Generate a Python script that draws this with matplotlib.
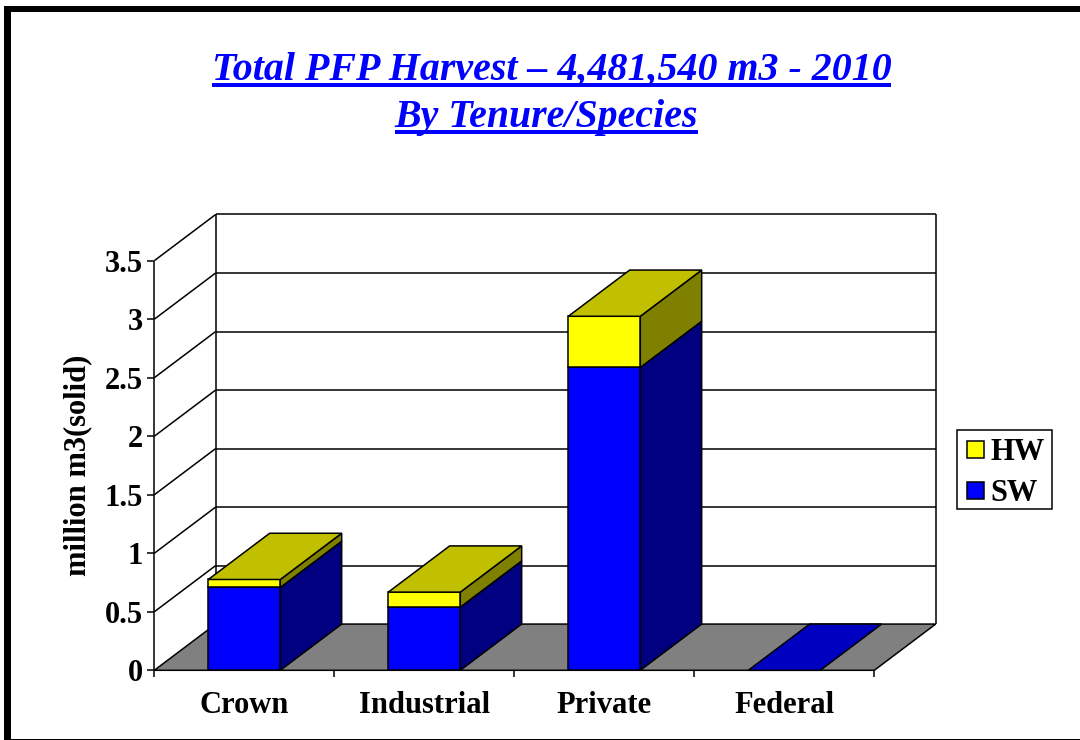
# _*_ coding: utf-8 _*_
import matplotlib
matplotlib.use("Agg")
import matplotlib.pyplot as plt
from matplotlib.patches import Patch, Polygon, Rectangle

plt.rcParams['font.family'] = ['Liberation Serif', 'DejaVu Serif']

categories = ['Crown', 'Industrial', 'Private', 'Federal']
sw_values = [0.708, 0.54, 2.588, 0.0]
hw_values = [0.068, 0.128, 0.437, 0.0]
y_ticks = [0, 0.5, 1, 1.5, 2, 2.5, 3, 3.5]
y_tick_labels = ['0', '0.5', '1', '1.5', '2', '2.5', '3', '3.5']
title_lines = ['Total PFP Harvest \u2013 4,481,540 m3 - 2010', 'By Tenure/Species']

W, H = 1080, 740
BAR_WIDTH = 0.4
# 3d 进深（数据单位）
DX = 0.341
DY = 0.395
EDGE = 1.1

SW_COLORS = ('#0000FF', '#0000C0', '#000080')  # front, top, side
HW_COLORS = ('#FFFF00', '#C0C000', '#808000')

fig = plt.figure(figsize=(W / 100, H / 100), dpi=100)
ax = fig.add_axes([154.3 / W, (H - 670.3) / H, 720 / W, 409.6 / H])
ax.set_xlim(-0.5, 3.5)
ax.set_ylim(0, 3.5)
ax.patch.set_visible(False)
for s in ax.spines.values():
    s.set_visible(False)


def quad(pts, color, z):
    ax.add_patch(Polygon(pts, closed=True, facecolor=color, edgecolor='black',
                         linewidth=EDGE, clip_on=False, zorder=z, joinstyle='miter'))


def line(xs, ys, z=1, lw=EDGE):
    ax.plot(xs, ys, color='black', linewidth=lw, clip_on=False, zorder=z,
            solid_capstyle='butt')


x0, x1 = ax.get_xlim()
# floor
quad([(x0, 0), (x1, 0), (x1 + DX, DY), (x0 + DX, DY)], '#808080', 1)
# walls and grid
for t in y_ticks:
    if t > 0:
        line([x0, x0 + DX], [t, t + DY])
        line([x0 + DX, x1 + DX], [t + DY, t + DY])
line([x0, x0], [0, y_ticks[-1]])
line([x0 + DX, x0 + DX], [DY, y_ticks[-1] + DY])
line([x1 + DX, x1 + DX], [DY, y_ticks[-1] + DY])

# bars
for i, cat in enumerate(categories):
    l = i - BAR_WIDTH / 2
    r = i + BAR_WIDTH / 2
    bottom = 0
    top_color = SW_COLORS[1]
    for val, cols in ((sw_values[i], SW_COLORS), (hw_values[i], HW_COLORS)):
        if val <= 0:
            continue
        top = bottom + val
        quad([(r, bottom), (r + DX, bottom + DY), (r + DX, top + DY), (r, top)], cols[2], 3)
        quad([(l, bottom), (r, bottom), (r, top), (l, top)], cols[0], 4)
        bottom = top
        top_color = cols[1]
    quad([(l, bottom), (r, bottom), (r + DX, bottom + DY), (l + DX, bottom + DY)], top_color, 4)

ax.set_xticks([x0 + k for k in range(len(categories) + 1)])
ax.set_xticklabels([])
ax.set_xticks(range(len(categories)), minor=True)
ax.set_xticklabels(categories, minor=True, fontsize=22, fontweight='bold')
ax.tick_params(axis='x', which='major', length=5, width=EDGE, color='black')
ax.tick_params(axis='x', which='minor', length=0, pad=15)
ax.set_yticks(y_ticks)
ax.set_yticklabels(y_tick_labels, fontsize=22, fontweight='bold')
ax.tick_params(axis='y', length=5, width=EDGE, pad=3, color='black')
fig.text(78 / W, 1 - 465 / H, 'million m3(solid)', rotation=90, ha='center', va='center',
         fontsize=22, fontweight='bold')

# title, underline drawn by hand because text has no underline
fig.canvas.draw()
renderer = fig.canvas.get_renderer()
for txt, base, cx in zip(title_lines, [80, 127], [551.5, 546.5]):
    t = fig.text(cx / W, 1 - base / H, txt, ha='center', va='baseline',
                 color='#0000FF', fontsize=28.7, fontweight='bold', fontstyle='italic')
    bb = t.get_window_extent(renderer)
    fig.add_artist(Rectangle((bb.x0 / W, 1 - (base + 7) / H), bb.width / W, 4 / H,
                             transform=fig.transFigure, facecolor='#0000FF', edgecolor='none'))

# legend box drawn apart so the rows can sit where they sit in the slide
fig.add_artist(Rectangle((957.3 / W, 1 - 509 / H), 95 / W, 79.3 / H, transform=fig.transFigure,
                         facecolor='white', edgecolor='black', linewidth=EDGE))
handles = [Patch(facecolor=HW_COLORS[0], edgecolor='black', linewidth=EDGE),
           Patch(facecolor=SW_COLORS[0], edgecolor='black', linewidth=EDGE)]
leg = fig.legend(handles, ['HW', 'SW'], loc='lower left',
                 bbox_to_anchor=(957.3 / W, 1 - 518.5 / H), borderaxespad=0,
                 prop={'family': 'Liberation Serif', 'weight': 'bold', 'size': 22},
                 frameon=False,
                 handlelength=0.55, handleheight=0.5, handletextpad=0.2,
                 labelspacing=0.4, borderpad=0.33)

# slide frame
for box in [(4, 6, 6.5, H - 6), (4, 6, W - 4, 6), (4, H - 1.5, W - 4, 1.5)]:
    fig.add_artist(Rectangle((box[0] / W, 1 - (box[1] + box[3]) / H), box[2] / W, box[3] / H,
                             transform=fig.transFigure, facecolor='black', edgecolor='none'))

fig.savefig('out.png', dpi=100)
